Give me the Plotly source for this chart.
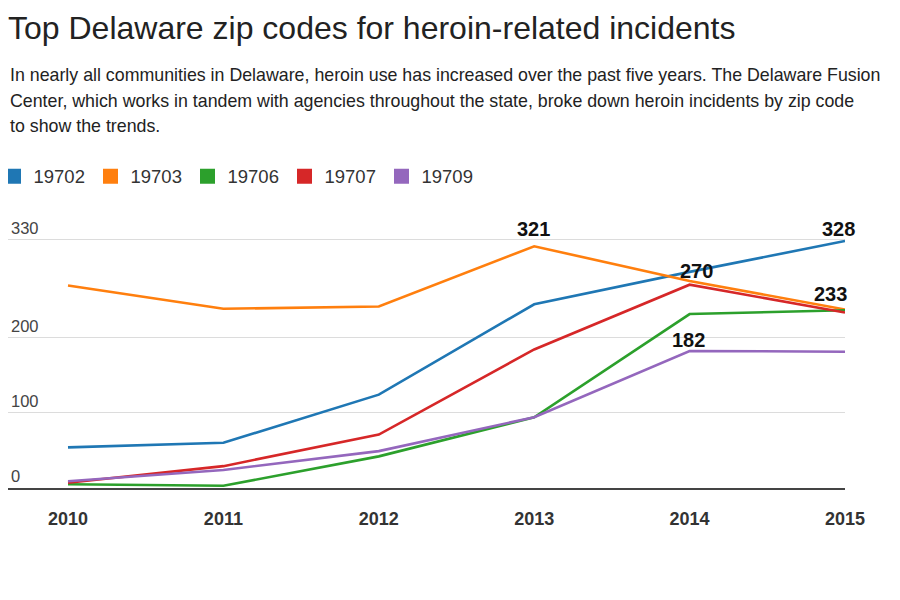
import plotly.graph_objects as go

years = [2010, 2011, 2012, 2013, 2014, 2015]
zips = ["19702", "19703", "19706", "19707", "19709"]
v19702 = [54, 60, 124, 244, 287, 328]
v19703 = [269, 238, 241, 321, 275, 237]
v19706 = [5, 3, 42, 94, 231, 236]
v19707 = [7, 29, 71, 184, 270, 233]
v19709 = [9, 24, 49, 94, 182, 181]
series = [v19702, v19703, v19706, v19707, v19709]
colors = ["#1f77b4", "#ff7f0e", "#2ca02c", "#d62728", "#9467bd"]

y_ticks = [0, 100, 200, 330]

# labelled points: (series index, year index)
labels = [(1, 3), (3, 4), (4, 4), (0, 5), (3, 5)]
label_shift = [(-1, 17), (7, 14), (-1, 11), (-7, 12), (-15, 19)]

title = "Top Delaware zip codes for heroin-related incidents"
subtitle = [
    "In nearly all communities in Delaware, heroin use has increased over the past five years. The Delaware Fusion",
    "Center, which works in tandem with agencies throughout the state, broke down heroin incidents by zip code",
    "to show the trends.",
]

FONT = "Liberation Sans, Arial, Helvetica, sans-serif"

# the page body adds an 8px margin; lay out in page pixels and compensate
OFF = 8
FW, FH = 900 - OFF, 600 - OFF
K = 0.7527            # px per unit on y
Y_TOP = 332
plot_left, plot_right, plot_bottom = 8, 845, 487.7
PW = plot_right - plot_left
L = plot_left - OFF
R = FW - (plot_right - OFF)
B = FH - (plot_bottom - OFF)
H = Y_TOP * K
T = FH - B - H

def py(page_y):
    return (plot_bottom - page_y) / H

fig = go.Figure()
for name, vals, c in zip(zips, series, colors):
    fig.add_trace(go.Scatter(
        x=years, y=vals, mode="lines", name=name,
        line=dict(color=c, width=2.6), showlegend=False,
        cliponaxis=False, hoverinfo="x+y+name",
    ))
for name, c in zip(zips, colors):
    fig.add_trace(go.Scatter(
        x=[None], y=[None], mode="markers", name=name,
        marker=dict(symbol="square", size=15, color=c),
        showlegend=True,
    ))

annotations = []
for (si, yi), (dx, dy) in zip(labels, label_shift):
    annotations.append(dict(
        x=years[yi], y=series[si][yi], xref="x", yref="y",
        text=str(series[si][yi]), showarrow=False,
        xanchor="center", yanchor="middle", xshift=dx, yshift=dy,
        font=dict(family=FONT, size=20, color="#111", weight="bold"),
    ))
for i, line in enumerate(subtitle):
    annotations.append(dict(
        x=0, y=py(75 + i * 25.5), xref="paper", yref="paper",
        text=line, showarrow=False, xanchor="left", yanchor="middle",
        font=dict(family=FONT, size=17.8, color="#222"),
    ))

x_left = 2010 - 60 / ((plot_right - 68) / 5)
fig.update_layout(
    width=FW, height=FH,
    margin=dict(l=L, r=R, t=T, b=B, pad=0, autoexpand=False),
    paper_bgcolor="white", plot_bgcolor="white",
    title=dict(text=title, x=0, xref="container", xanchor="left",
               y=1 - (28 - OFF) / FH, yref="container", yanchor="middle",
               pad=dict(l=0, r=0, t=0, b=0),
               font=dict(family=FONT, size=32, color="#222")),
    showlegend=True,
    legend=dict(orientation="h", x=-14.5 / PW, xanchor="left",
                y=py(176.5), yanchor="middle",
                font=dict(family=FONT, size=18.5, color="#333"),
                entrywidth=52, entrywidthmode="pixels", itemsizing="trace",
                bgcolor="rgba(0,0,0,0)", borderwidth=0),
    annotations=annotations,
    xaxis=dict(range=[x_left, 2015], tickvals=years, ticktext=[str(y) for y in years],
               showgrid=False, zeroline=False, showline=True, linecolor="#444", linewidth=1.8,
               ticks="", ticklabelstandoff=13,
               tickfont=dict(family=FONT, size=18, color="#333", weight="bold"),
               fixedrange=True),
    yaxis=dict(range=[0, Y_TOP], tickvals=y_ticks, ticktext=[str(v) for v in y_ticks],
               showgrid=True, gridcolor="#dcdcdc", gridwidth=1, zeroline=False,
               ticklabelposition="inside top", ticks="", ticklabelstandoff=0,
               ticklabeloverflow="allow",
               tickfont=dict(family=FONT, size=16.5, color="#444"),
               fixedrange=True),
    hovermode="closest",
)

fig.write_html("out.html")
